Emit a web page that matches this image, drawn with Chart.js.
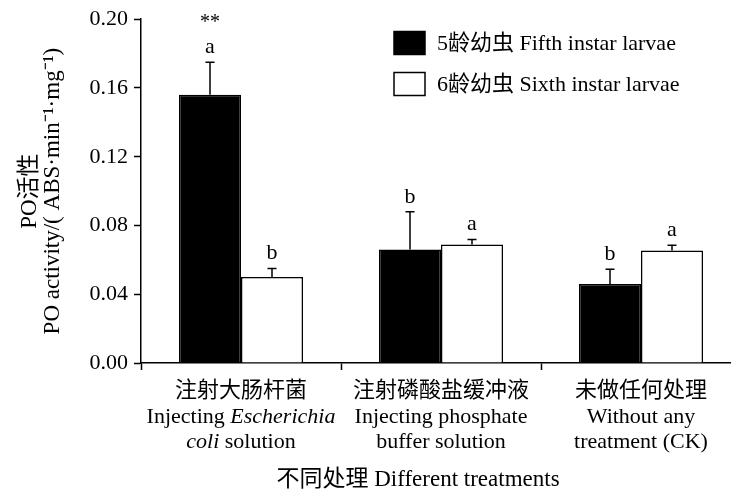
<!DOCTYPE html>
<html>
<head>
<meta charset="utf-8">
<script src="https://cdn.jsdelivr.net/npm/chart.js@4.4.1/dist/chart.umd.min.js"></script>
<style>
  html, body { margin: 0; padding: 0; background: #fff; overflow: hidden; }
  #wrap { width: 731px; height: 492px; overflow: hidden; }
</style>
</head>
<body>
<div id="wrap"><canvas id="chart" width="745" height="492"></canvas></div>
<script>
// Categories (Chinese line + English lines, [text, italic] pieces)
const categoriesZh = ['注射大肠杆菌', '注射磷酸盐缓冲液', '未做任何处理'];
const categoriesEn = [
    [[['Injecting ', false], ['Escherichia', true]], [['coli', true], [' solution', false]]],
    [[['Injecting phosphate', false]], [['buffer solution', false]]],
    [[['Without any', false]], [['treatment (CK)', false]]]
];
const xTitle = '不同处理 Different treatments';

// Series values
const fifthValues = [0.156, 0.066, 0.046];
const fifthErrors = [0.019, 0.022, 0.0085];
const fifthLetters = ['a', 'b', 'b'];
const fifthStars = ['**', '', ''];

const sixthValues = [0.050, 0.069, 0.0655];
const sixthErrors = [0.005, 0.0028, 0.003];
const sixthLetters = ['b', 'a', 'a'];
const sixthStars = ['', '', ''];

// Axis ticks
const yTicks = [0.00, 0.04, 0.08, 0.12, 0.16, 0.20];

const SERIF = '"Liberation Serif", "Times New Roman", "Noto Sans CJK SC", serif';
const CJK = '"Noto Sans CJK SC", sans-serif';

const extras = [
    { errors: fifthErrors, letters: fifthLetters, stars: fifthStars },
    { errors: sixthErrors, letters: sixthLetters, stars: sixthStars }
];

// Error bars, significance letters
const errorBarPlugin = {
    id: 'errorBars',
    afterDatasetsDraw(chart) {
        const ctx = chart.ctx;
        const y = chart.scales.y;
        ctx.save();
        ctx.strokeStyle = '#000';
        ctx.fillStyle = '#000';
        ctx.lineWidth = 1.5;
        ctx.textAlign = 'center';
        ctx.textBaseline = 'middle';
        chart.data.datasets.forEach((ds, di) => {
            const meta = chart.getDatasetMeta(di);
            meta.data.forEach((bar, i) => {
                const top = y.getPixelForValue(ds.data[i] + extras[di].errors[i]);
                ctx.beginPath();
                ctx.moveTo(bar.x, bar.y);
                ctx.lineTo(bar.x, top);
                ctx.moveTo(bar.x - 4.5, top);
                ctx.lineTo(bar.x + 4.5, top);
                ctx.stroke();
                ctx.font = '22px ' + SERIF;
                ctx.fillText(extras[di].letters[i], bar.x, top - 15);
                if (extras[di].stars[i]) {
                    ctx.font = '20px ' + SERIF;
                    ctx.fillText(extras[di].stars[i], bar.x, top - 39);
                }
            });
        });
        ctx.restore();
    }
};

// Category labels under the x axis (mixed italic) and the axis title
const categoryLabelPlugin = {
    id: 'categoryLabels',
    afterDraw(chart) {
        const ctx = chart.ctx;
        const x = chart.scales.x;
        ctx.save();
        ctx.fillStyle = '#000';
        ctx.textBaseline = 'middle';
        categoriesZh.forEach((zh, i) => {
            const cx = x.getPixelForValue(i);
            ctx.textAlign = 'center';
            ctx.font = '22px ' + CJK;
            ctx.fillText(zh, cx, 389);
            ctx.textAlign = 'left';
            categoriesEn[i].forEach((line, li) => {
                const fonts = line.map(p => (p[1] ? 'italic ' : '') + '22px ' + SERIF);
                let total = 0;
                line.forEach((p, k) => { ctx.font = fonts[k]; total += ctx.measureText(p[0]).width; });
                let px = cx - total / 2;
                line.forEach((p, k) => {
                    ctx.font = fonts[k];
                    ctx.fillText(p[0], px, 417 + li * 25);
                    px += ctx.measureText(p[0]).width;
                });
            });
        });
        ctx.textAlign = 'center';
        ctx.font = '23px ' + SERIF;
        ctx.fillText(xTitle, 418, 480);
        ctx.restore();
    }
};

// Legend in the upper right of the plot
const legendPlugin = {
    id: 'boxLegend',
    afterDraw(chart) {
        const ctx = chart.ctx;
        ctx.save();
        ctx.textBaseline = 'middle';
        ctx.textAlign = 'left';
        ctx.font = '22px ' + SERIF;
        chart.data.datasets.forEach((ds, di) => {
            const cy = 43 + di * 41;
            ctx.fillStyle = ds.backgroundColor;
            ctx.fillRect(394, cy - 11.5, 31, 23);
            ctx.strokeStyle = '#000';
            ctx.lineWidth = 1.5;
            ctx.strokeRect(394, cy - 11.5, 31, 23);
            ctx.fillStyle = '#000';
            ctx.fillText(ds.label, 437, cy + 1);
        });
        ctx.restore();
    }
};

const ctx = document.getElementById('chart').getContext('2d');
const chart = new Chart(ctx, {
    type: 'bar',
    data: {
        labels: categoriesZh,
        datasets: [
            {
                label: '5龄幼虫 Fifth instar larvae',
                data: fifthValues,
                backgroundColor: '#000',
                borderColor: '#000',
                borderWidth: 1.5
            },
            {
                label: '6龄幼虫 Sixth instar larvae',
                data: sixthValues,
                backgroundColor: '#fff',
                borderColor: '#000',
                borderWidth: 1.5
            }
        ]
    },
    options: {
        responsive: false,
        animation: false,
        devicePixelRatio: 1,
        categoryPercentage: 0.62,
        barPercentage: 1,
        layout: { padding: { top: 19, right: 4, left: 0, bottom: 122 } },
        plugins: {
            legend: { display: false },
            tooltip: { enabled: false }
        },
        scales: {
            x: {
                grid: {
                    offset: true,
                    drawOnChartArea: false,
                    tickLength: 7,
                    tickColor: '#000',
                    tickWidth: 1.5
                },
                border: { color: '#000', width: 1.5 },
                ticks: { display: false }
            },
            y: {
                min: 0,
                max: 0.2,
                afterFit(scale) { scale.width = 141; },
                afterBuildTicks(scale) { scale.ticks = yTicks.map(v => ({ value: v })); },
                grid: {
                    drawOnChartArea: false,
                    tickLength: 7,
                    tickColor: '#000',
                    tickWidth: 1.5
                },
                border: { color: '#000', width: 1.5 },
                ticks: {
                    color: '#000',
                    padding: 6,
                    font: { family: SERIF, size: 22 },
                    callback: v => v.toFixed(2)
                },
                title: {
                    display: true,
                    text: ['PO活性', 'PO activity/( ABS·min⁻¹·mg⁻¹)'],
                    color: '#000',
                    font: { family: SERIF, size: 23, lineHeight: 1.0 },
                    padding: { top: 18, bottom: 0 }
                }
            }
        }
    },
    plugins: [errorBarPlugin, categoryLabelPlugin, legendPlugin]
});
</script>
</body>
</html>
